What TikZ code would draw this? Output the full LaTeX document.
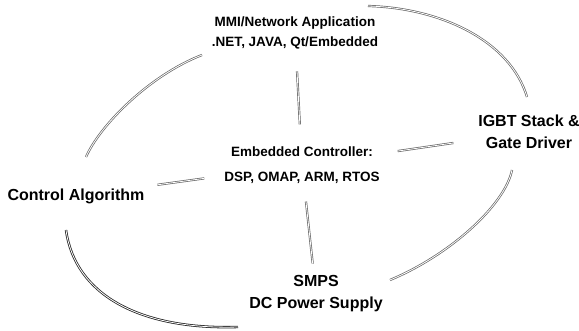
\documentclass[tikz,border=0pt]{standalone}
\usepackage{fontspec}
\setmainfont{Liberation Sans}
\begin{document}
\begin{tikzpicture}[x=1pt,y=-1pt]
    \useasboundingbox[fill=white] (0,0) rectangle (579,331);
    \tikzstyle{every node}=[align=center, inner sep=2pt]
    \tikzstyle{big}=[font=\bfseries\fontsize{16}{22}\selectfont]
    \tikzstyle{small}=[font=\bfseries\fontsize{13.5}{20}\selectfont]
    \tikzstyle{link}=[draw=black!60, line width=0.7pt, double=white, double distance=0.8pt]
    \node[small] (mmi)  at (295, 33)  {MMI/Network Application\\.NET, JAVA, Qt/Embedded};
    \node[small, font=\bfseries\fontsize{13.5}{25}\selectfont] (emb) at (302, 165) {Embedded Controller:\\DSP, OMAP, ARM, RTOS};
    \node[big]   (ctrl) at (76, 196)  {Control Algorithm};
    \node[big]   (igbt) at (529, 132) {IGBT Stack \&\\Gate Driver};
    \node[big]   (smps) at (316, 294) {SMPS\\DC Power Supply};
    % ends of the outer ring
    \coordinate (ctrl-up)    at (86, 157);
    \coordinate (mmi-left)   at (202, 55);
    \coordinate (mmi-right)  at (368, 6);
    \coordinate (igbt-up)    at (527, 97);
    \coordinate (igbt-down)  at (512, 170);
    \coordinate (smps-right) at (390, 280);
    \coordinate (smps-left)  at (238, 327);
    \coordinate (ctrl-down)  at (66, 230);
    \draw[link] (ctrl-up) .. controls (100,125) and (150,75) .. (mmi-left);
    \draw[link] (mmi-right) .. controls (440,8) and (510,40) .. (igbt-up);
    \draw[link] (igbt-down) .. controls (505,205) and (450,255) .. (smps-right);
    \draw[link, draw=black!85, line width=0.8pt] (ctrl-down) .. controls (75,295) and (140,330) .. (smps-left);
    % spokes
    \draw[link, shorten <=20pt, shorten >=20pt] (mmi) -- (emb);
    \draw[link, shorten <=11pt, shorten >=18pt] (ctrl) -- (emb);
    \draw[link, shorten <=16pt, shorten >=23pt] (emb) -- (igbt);
    \draw[link, shorten <=16pt, shorten >=10pt] (emb) -- (smps);
\end{tikzpicture}
\end{document}
